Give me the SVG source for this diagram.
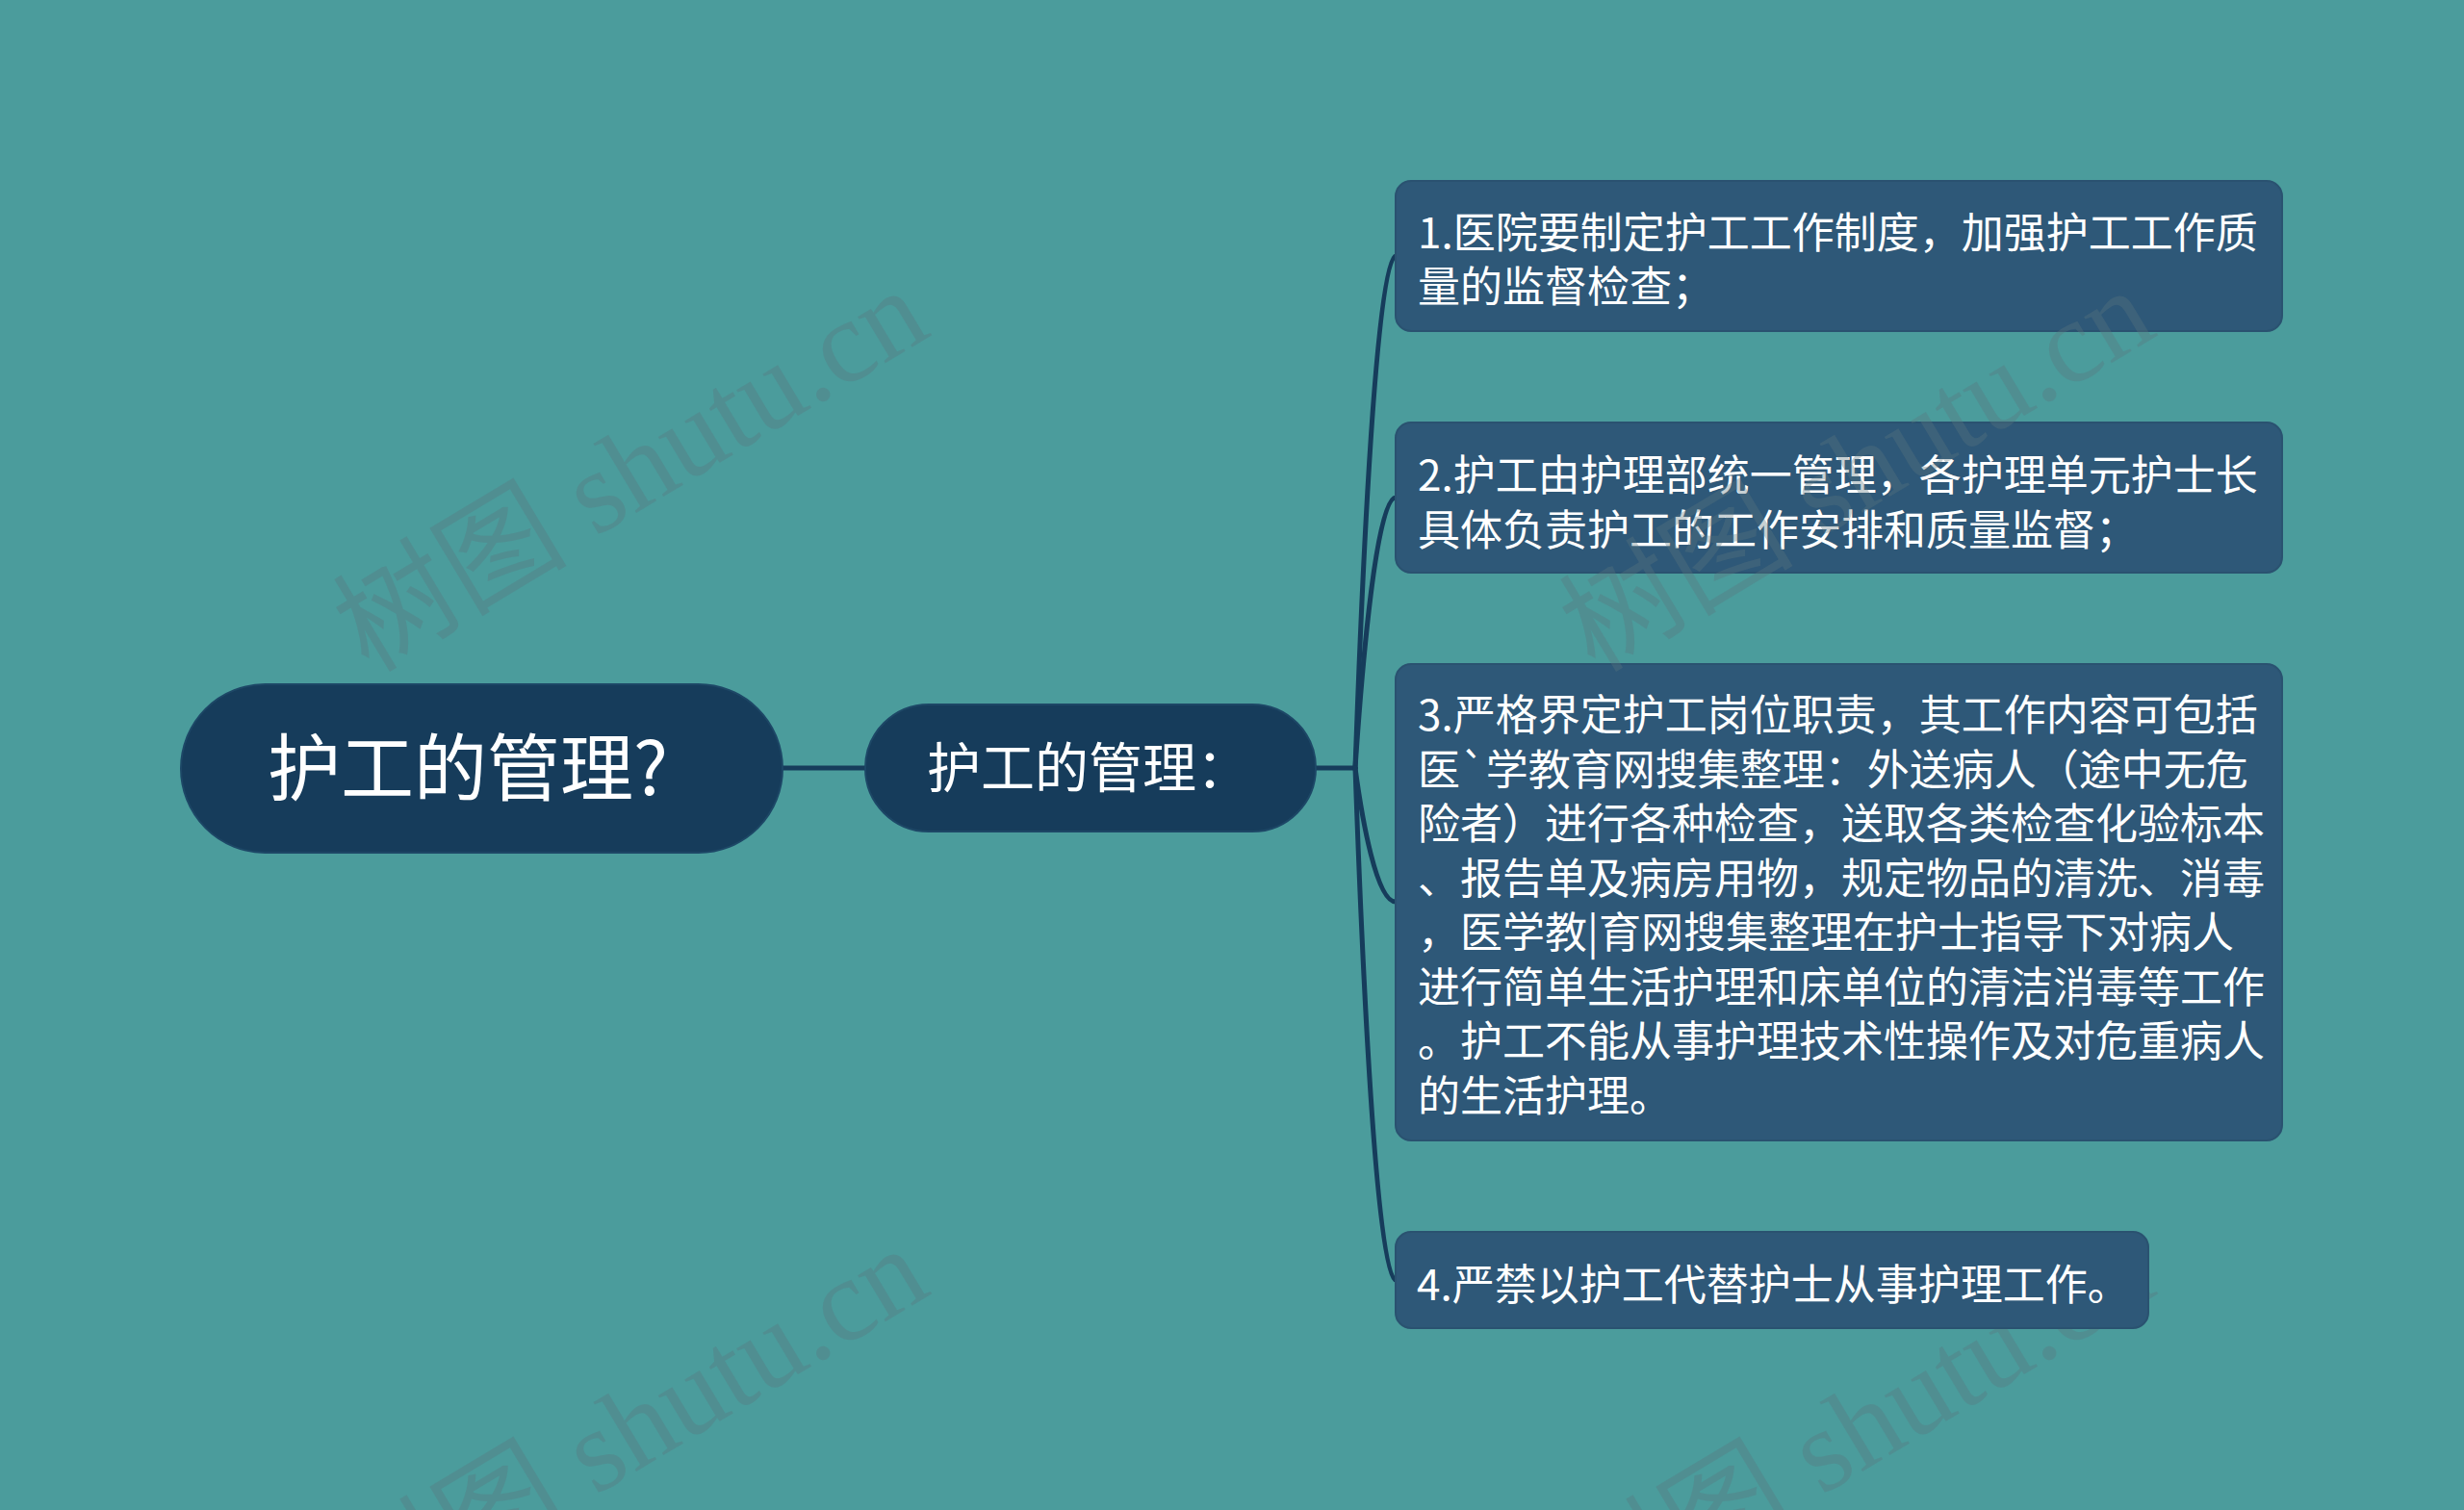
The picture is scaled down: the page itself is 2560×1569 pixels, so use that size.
<svg xmlns="http://www.w3.org/2000/svg" width="2560" height="1569" viewBox="0 0 2560 1569">
<style>
.bg{fill:#4b9c9c}
.root{fill:#163c5b;stroke:#1d4766;stroke-width:2}
.box{fill:#2e5878;stroke:#2a5270;stroke-width:2}
.t{fill:#ffffff;font-family:"Noto Sans CJK SC","Noto Sans",sans-serif}
.bt{font-size:44px}
.link{fill:none;stroke:#163c5b;stroke-width:5;stroke-linecap:round}
.wm{fill:#5a767e;fill-opacity:0.34;font-family:"Liberation Serif","Noto Sans CJK SC",serif;font-size:122px}
</style>
<rect class="bg" x="0" y="0" width="2560" height="1569"/>
<g id="connectors">
<path class="link" d="M813 798 L899 798"/>
<path class="link" d="M1367 798 L1408 798"/>
<path class="link" d="M1408 798 C1415 601 1430 266 1450 266"/>
<path class="link" d="M1408 798 C1415 694 1430 517 1450 517"/>
<path class="link" d="M1408 798 C1415 850 1430 937 1450 937"/>
<path class="link" d="M1408 798 C1415 995 1430 1330 1450 1330"/>
</g>
<g id="root">
<rect class="root" x="188" y="711" width="625" height="175" rx="87.5"/>
<text class="t" x="278" y="826" font-size="76">护工的管理?</text>
</g>
<g id="mid">
<rect class="root" x="899" y="732" width="468" height="132" rx="66"/>
<text class="t" x="963" y="818" font-size="56">护工的管理：</text>
</g>
<g id="item1">
<rect class="box" x="1450" y="188" width="921" height="156" rx="16"/>
<text class="t bt" x="1473" y="258">1.医院要制定护工工作制度，加强护工工作质</text>
<text class="t bt" x="1473" y="314">量的监督检查；</text>
</g>
<g id="item2">
<rect class="box" x="1450" y="439" width="921" height="156" rx="16"/>
<text class="t bt" x="1473" y="510">2.护工由护理部统一管理，各护理单元护士长</text>
<text class="t bt" x="1473" y="567">具体负责护工的工作安排和质量监督；</text>
</g>
<g id="item3">
<rect class="box" x="1450" y="690" width="921" height="495" rx="16"/>
<text class="t bt" x="1473" y="759">3.严格界定护工岗位职责，其工作内容可包括</text>
<text class="t bt" x="1473" y="816">医`学教育网搜集整理：外送病人（途中无危</text>
<text class="t bt" x="1473" y="872">险者）进行各种检查，送取各类检查化验标本</text>
<text class="t bt" x="1473" y="929">、报告单及病房用物，规定物品的清洗、消毒</text>
<text class="t bt" x="1473" y="985">，医学教|育网搜集整理在护士指导下对病人</text>
<text class="t bt" x="1473" y="1042">进行简单生活护理和床单位的清洁消毒等工作</text>
<text class="t bt" x="1473" y="1098">。护工不能从事护理技术性操作及对危重病人</text>
<text class="t bt" x="1473" y="1155">的生活护理。</text>
</g>
<g id="watermark">
<text class="wm" transform="translate(383 700) rotate(-31)">树图 shutu.cn</text>
<text class="wm" transform="translate(1657 700) rotate(-31)">树图 shutu.cn</text>
<text class="wm" transform="translate(383 1696) rotate(-31)">树图 shutu.cn</text>
<text class="wm" transform="translate(1657 1696) rotate(-31)">树图 shutu.cn</text>
</g>
<g id="item4">
<rect class="box" x="1450" y="1280" width="782" height="100" rx="16"/>
<text class="t bt" x="1472" y="1351">4.严禁以护工代替护士从事护理工作。</text>
</g>
</svg>
